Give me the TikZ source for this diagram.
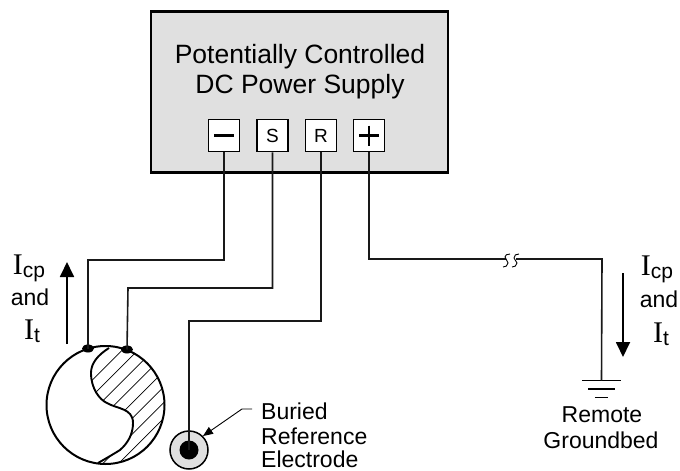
\documentclass[tikz,border=0pt]{standalone}
\usepackage{fontspec}
\setmainfont{Liberation Sans}
\newfontfamily\timesf{Liberation Serif}
\usetikzlibrary{arrows.meta,calc,shapes.geometric}
\newcommand{\Icur}[1]{{\timesf\fontsize{30}{30}\selectfont I}{\fontsize{21}{21}\selectfont\raisebox{-3.5pt}{#1}}}
\tikzset{
  x=1pt,y=-1pt,
  wire/.style={line width=1.6pt,draw=black!90},
  term/.style={draw=black,line width=1.7pt,fill=white,minimum width=31pt,minimum height=32pt,inner sep=0pt,font=\fontsize{19}{19}\selectfont},
  lab/.style={inner sep=0pt,font=\fontsize{23}{26}\selectfont},
  curarrow/.style={line width=1.8pt,-{Triangle[length=15pt,width=14pt]}},
  contact/.style={ellipse,fill=black,inner sep=0pt,minimum width=12pt,minimum height=8pt},
  gline/.style={line width=1.6pt},
  sbreak/.style={line width=0.9pt},
}
\begin{document}
\begin{tikzpicture}
\useasboundingbox (0,0) rectangle (680,471);
% supply
\node[draw=black,line width=2.6pt,fill=black!12,minimum width=297pt,minimum height=161pt,inner sep=0pt] (psu) at (299.5,92) {};
\node[anchor=base,inner sep=0pt,font=\fontsize{26.5}{30}\selectfont] (t1) at (300,63) {Potentially Controlled};
\node[anchor=base,inner sep=0pt,font=\fontsize{26.5}{30}\selectfont] (t2) at (300,93) {DC Power Supply};
\node[term] (tm) at (224,135.5) {};
\draw[line width=2.4pt] (214,135.5) -- (234,135.5);
\node[term] (ts) at (272.5,135.5) {S};
\node[term] (tr) at (321,135.5) {R};
\node[term] (tp) at (369,135.5) {};
\draw[line width=2.2pt] (359,135.5) -- (379,135.5) (369,125.5) -- (369,145.5);
% pipe
\coordinate (pc) at (105.5,405);
\begin{scope}
  \clip (pc) circle (59);
  \clip (109,348) .. controls (98,355) and (91,363) .. (91,373)
        .. controls (91,389) and (100,400) .. (107,403)
        .. controls (117,409) and (133,408) .. (133,423)
        .. controls (133,434) and (128,443) .. (120,450)
        .. controls (112,455) and (105,459) .. (98,463)
        -- (170,470) -- (175,340) -- cycle;
  \foreach \c in {472.3,488,503.7,519.3,535,550.7,566.3,582}
    \draw[line width=0.7pt] (\c-340,340) -- (\c-480,480);
\end{scope}
\draw[line width=1.9pt] (109,348) .. controls (98,355) and (91,363) .. (91,373)
        .. controls (91,389) and (100,400) .. (107,403)
        .. controls (117,409) and (133,408) .. (133,423)
        .. controls (133,434) and (128,443) .. (120,450)
        .. controls (112,455) and (105,459) .. (98,463);
\node[circle,draw=black,line width=2pt,minimum size=118pt,inner sep=0pt] (pipe) at (pc) {};
\node[contact] (c1) at (88,348.5) {};
\node[contact] (c2) at (127,349.5) {};
% electrode
\node[circle,draw=black,line width=1.5pt,fill=black!12,minimum size=38pt,inner sep=0pt] (el) at (189,450) {};
\node[circle,fill=black,minimum size=19pt,inner sep=0pt] (elc) at (189,450) {};
% wires
\coordinate (m1) at (224,260); \coordinate (m2) at (88,260);
\coordinate (s1) at (272,288); \coordinate (s2) at (128,288);
\coordinate (r1) at (321,321); \coordinate (r2) at (189,321);
\coordinate (p1) at (369,259); \coordinate (p2) at (602,259);
\draw[wire] (tm.south) -- (m1) -- (m2) -- (c1.center);
\draw[wire] (ts.south) -- (ts.south |- s1) -- (s2) -- (c2.center);
\draw[wire] (tr.south) -- (r1) -- (r2) -- (elc.center);
% ground
\node[minimum width=39pt,minimum height=0pt,inner sep=0pt] (g1) at (601.5,380.5) {};
\node[minimum width=26pt,minimum height=0pt,inner sep=0pt] (g2) at (601.5,389) {};
\node[minimum width=13pt,minimum height=0pt,inner sep=0pt] (g3) at (601.5,397.5) {};
\draw[gline] (g1.west) -- (g1.east);
\draw[gline] (g2.west) -- (g2.east);
\draw[gline] (g3.west) -- (g3.east);
\draw[wire] (tp.south) -- (p1) -- (505.5,259);
\draw[wire] (516,259) -- (p2) -- (g1.center);
% break
\draw[sbreak] (510,254) .. controls (507,254) and (505,255) .. (505,257) .. controls (505,260) and (508,260) .. (508,263) .. controls (508,266) and (505,267) .. (503,267);
\draw[sbreak] (519,254) .. controls (516,254) and (514,255) .. (514,258) .. controls (514,260) and (517,261) .. (517,263) .. controls (517,266) and (514,267) .. (512,267);
% current arrows
\coordinate (a1) at (67,344); \coordinate (a2) at (67,262);
\draw[curarrow] (a1) -- (a2);
\coordinate (b1) at (623,273); \coordinate (b2) at (623,357);
\draw[curarrow] (b1) -- (b2);
\node[anchor=base,inner sep=0pt] (li) at (29,274) {\Icur{cp}};
\node[lab,anchor=base] (la) at (30,305) {and};
\node[anchor=base,inner sep=0pt] (lt) at (32,339) {\Icur{t}};
\node[anchor=base,inner sep=0pt] (ri) at (657,275) {\Icur{cp}};
\node[lab,anchor=base] (ra) at (659,307) {and};
\node[anchor=base,inner sep=0pt] (rt) at (661,342) {\Icur{t}};
% labels
\node[lab,anchor=base west] (b) at (261,419) {Buried};
\node[lab,anchor=base west] (rf) at (261,444) {Reference};
\node[lab,anchor=base west] (e) at (261,467) {Electrode};
\node[lab,anchor=base] (g) at (602,422) {Remote};
\node[lab,anchor=base] (gb) at (601,448) {Groundbed};
\coordinate (k) at (242,409);
\draw[line width=0.9pt,-{Triangle[length=10pt,width=8pt]}] (b.west |- k) ++(-9,0) -- (k) -- (el.45);
\end{tikzpicture}
\end{document}
